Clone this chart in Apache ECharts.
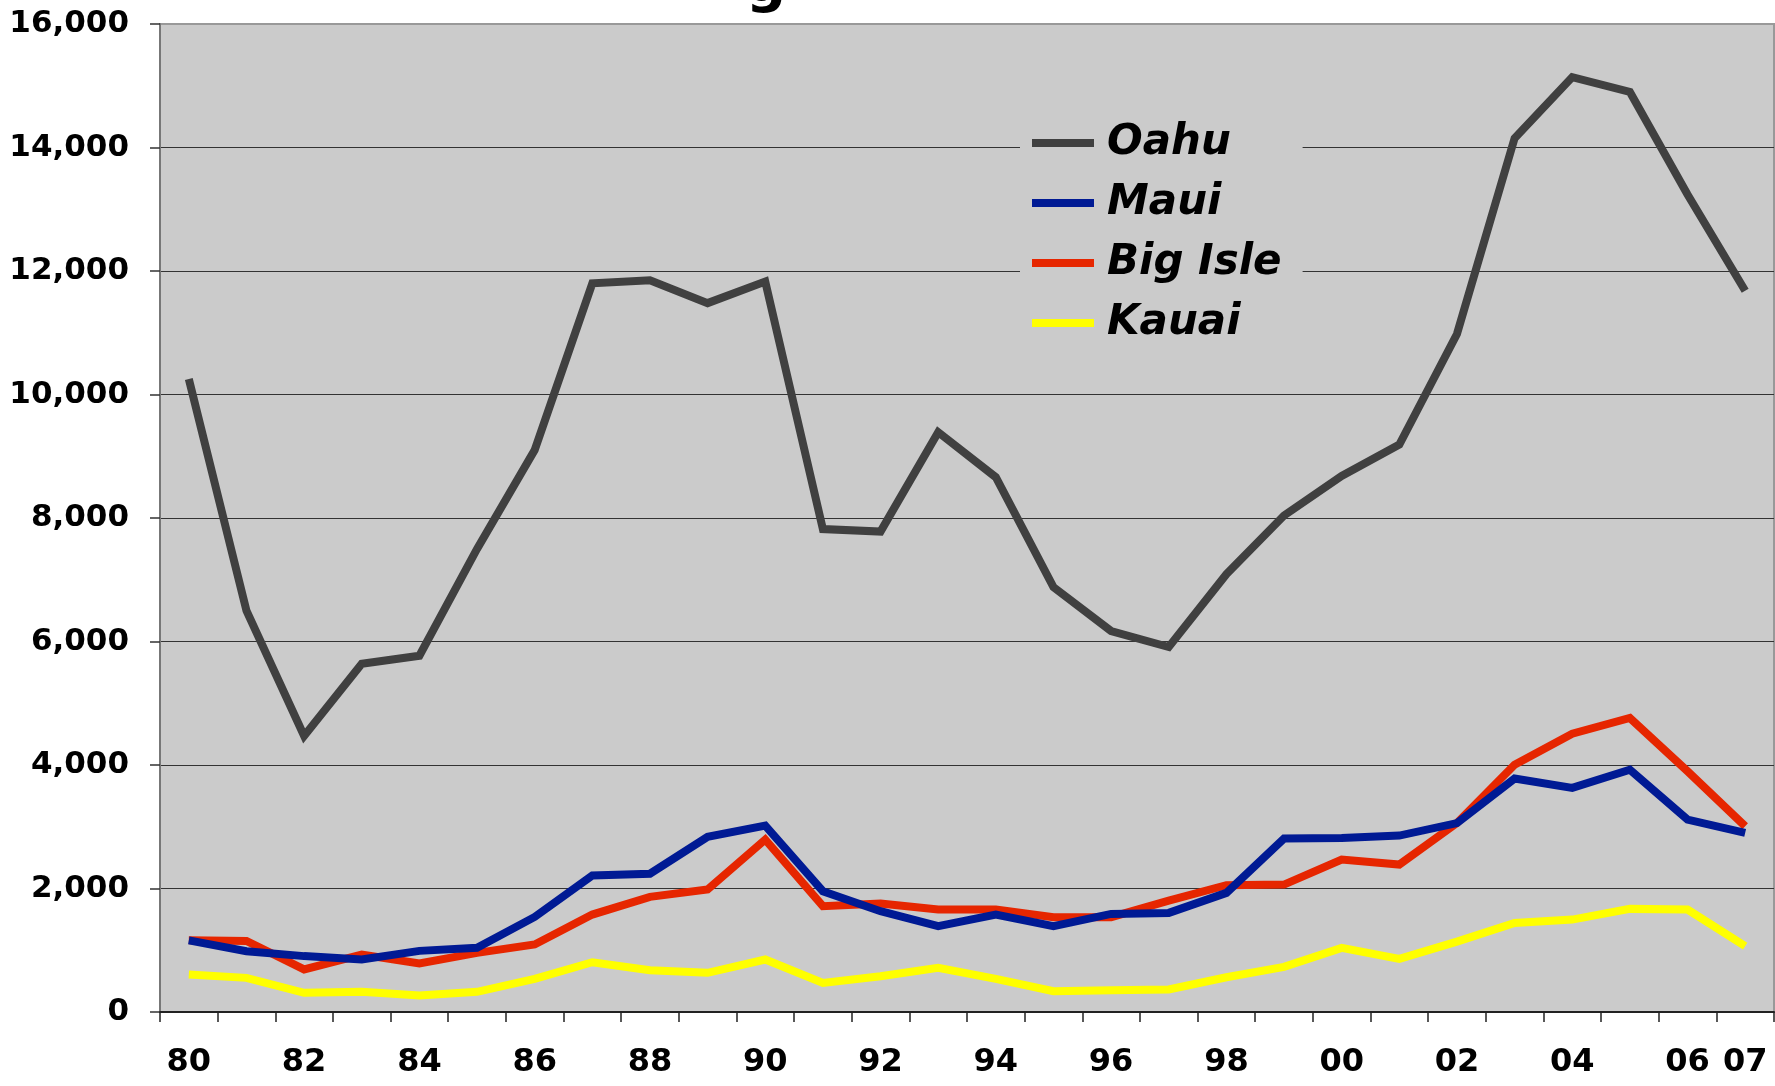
<!DOCTYPE html>
<html>
<head>
<meta charset="utf-8">
<script src="https://cdn.jsdelivr.net/npm/echarts@6/dist/echarts.min.js"></script>
<style>
html,body{margin:0;padding:0;background:#fff;}
#c{width:1775px;height:1086px;}
</style>
</head>
<body>
<div id="c"></div>
<script>
const years = ['80','81','82','83','84','85','86','87','88','89','90','91','92','93','94','95','96','97','98','99','00','01','02','03','04','05','06','07'];
const oahu = [10250,6500,4470,5640,5770,7500,9100,11800,11850,11480,11830,7820,7780,9390,8660,6880,6170,5910,7090,8040,8680,9190,10980,14150,15140,14900,13240,11680];
const maui = [1160,985,905,850,990,1040,1540,2210,2240,2836,3020,1956,1632,1389,1578,1389,1589,1605,1929,2808,2819,2857,3060,3780,3629,3925,3116,2900];
const bigIsle = [1160,1150,690,930,785,958,1093,1578,1864,1983,2792,1713,1756,1659,1659,1535,1535,1805,2053,2063,2468,2387,3060,4006,4508,4762,3898,3008];
const kauai = [607,553,310,327,267,327,537,806,677,634,850,472,580,715,537,337,353,364,563,731,1039,861,1140,1443,1497,1670,1659,1065];
const seriesNames = ['Oahu','Maui','Big Isle','Kauai'];
const seriesColors = ['#404040','#001a94','#e62600','#ffff00'];
const yTicks = {min:0, max:16000, interval:2000};

const chart = echarts.init(document.getElementById('c'));
const FONT = 'DejaVu Sans';
const data = [oahu, maui, bigIsle, kauai];
chart.setOption({
  animation:false,
  backgroundColor:'#ffffff',
  grid:{left:160,right:1,top:24,bottom:74,show:true,backgroundColor:'#cbcbcb',borderColor:'#999999',borderWidth:2},
  legend:{
    orient:'vertical',left:1020,top:109,
    backgroundColor:'#cbcbcb',
    padding:[10,21,12,12],
    icon:'rect',itemWidth:62,itemHeight:8,itemGap:12,
    textStyle:{fontFamily:FONT,fontSize:42,fontWeight:'bold',fontStyle:'italic',color:'#000',lineHeight:48,padding:[0,0,0,8]},
    data:seriesNames
  },
  xAxis:{
    type:'category',data:years,boundaryGap:true,
    axisLine:{lineStyle:{color:'#222',width:2}},
    axisTick:{show:true,interval:0,length:10,lineStyle:{color:'#222',width:1.5}},
    axisLabel:{
      interval:function(i){return i%2===0 || i===years.length-1;},
      fontFamily:FONT,fontSize:32,fontWeight:'bold',color:'#000',margin:35
    },
    splitLine:{show:false}
  },
  yAxis:{
    type:'value',min:yTicks.min,max:yTicks.max,interval:yTicks.interval,
    axisLine:{show:true,lineStyle:{color:'#777',width:2}},
    axisTick:{show:true,length:10,lineStyle:{color:'#333',width:1.5}},
    axisLabel:{fontFamily:FONT,fontSize:31,fontWeight:'bold',color:'#000',margin:31,
      formatter:function(v){return v.toLocaleString('en-US');}},
    splitLine:{show:true,lineStyle:{color:['#333','#333','#333','#333','#333','#333','#333','#333','#999'],width:1.2}}
  },
  graphic:[{type:'text',x:746,y:-42,z:100,style:{text:'g',font:'bold 56px "DejaVu Sans"',fill:'#000',verticalAlign:'top'}}],
  series:seriesNames.map(function(n,i){
    return {name:n,type:'line',data:data[i],symbol:'none',
      lineStyle:{color:seriesColors[i],width:8,join:'miter'},
      itemStyle:{color:seriesColors[i]},z:10-i};
  })
});
</script>
</body>
</html>
